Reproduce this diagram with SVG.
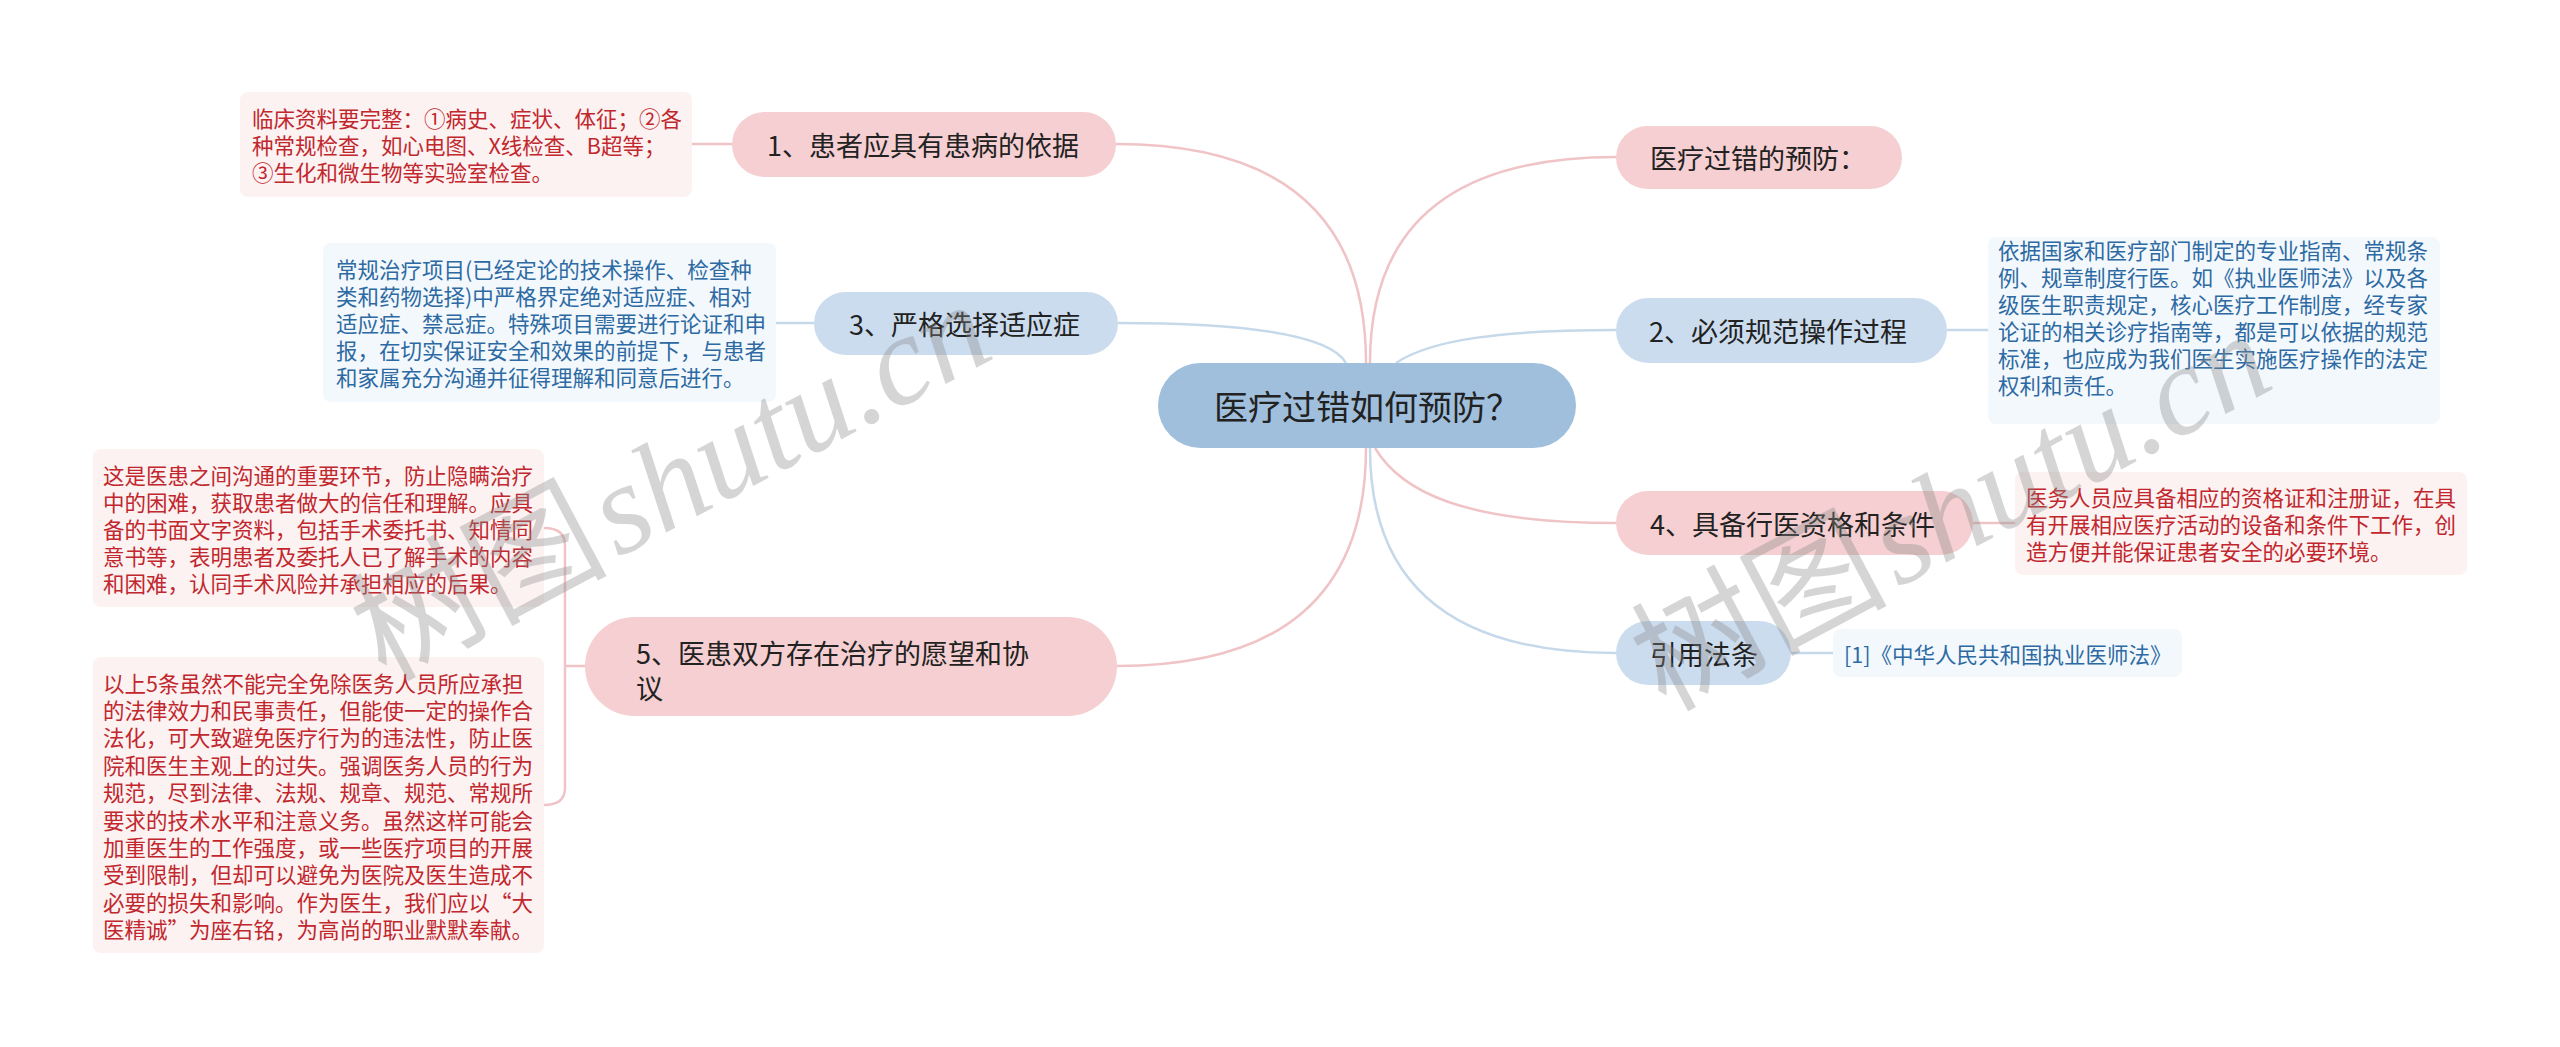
<svg xmlns="http://www.w3.org/2000/svg" width="2560" height="1047" viewBox="0 0 2560 1047">
<style>
text{font-family:"Noto Sans CJK SC","Noto Sans",sans-serif;dominant-baseline:central}
.main{font-size:27px;fill:#222}
.center{font-size:34px;fill:#222;text-anchor:middle}
.nr{font-size:21.5px;fill:#c1272d}
.nb{font-size:21.5px;fill:#2d6aa3}
.pk{fill:#f5cfd1}
.bl{fill:#cbdcee}
.npk{fill:#fcf2f2}
.nbl{fill:#f3f8fc}
.cp{fill:none;stroke:#f0c4c6;stroke-width:2.5}
.cb{fill:none;stroke:#c6d9ea;stroke-width:2.5}
.wm{fill:#8a8a8a;fill-opacity:0.36;dominant-baseline:alphabetic}
.wcjk{font-family:"Noto Sans CJK SC",sans-serif}
.wlat{font-family:"Liberation Serif",serif;font-style:italic}
</style>
<rect width="2560" height="1047" fill="#fff"/>
<g id="connectors">
<path class="cp" d="M1116,144 Q1366,144 1366,363"/>
<path class="cb" d="M1118,323 C1250,323 1330,335 1346,363"/>
<path class="cp" d="M1117,666 Q1366,666 1366,448"/>
<path class="cp" d="M1370,363 Q1370,157 1616,157"/>
<path class="cb" d="M1396,363 C1430,340 1500,330 1616,330"/>
<path class="cp" d="M1375,448 C1400,490 1460,523 1616,523"/>
<path class="cb" d="M1370,448 Q1370,653 1616,653"/>
<path class="cp" d="M692,144 L732,144"/>
<path class="cb" d="M776,323 L814,323"/>
<path class="cp" d="M585,666 L565,666 M565,666 L565,545 Q565,528 544,528 M565,666 L565,788 Q565,805 544,805"/>
<path class="cb" d="M1947,330 L1988,330"/>
<path class="cp" d="M1973,523 L2015,523"/>
<path class="cb" d="M1791,653 L1833,653"/>
</g>
<g id="center">
<rect x="1158" y="363" width="418" height="85" rx="42.5" fill="#a0bfdc"/>
<text class="center" x="1367" y="405.5">医疗过错如何预防？</text>
</g>
<g id="n1">
<rect class="pk" x="732" y="112" width="384" height="65" rx="32.5"/>
<text class="main" x="767" y="144.5">1、患者应具有患病的依据</text>
</g>
<g id="n1note">
<rect class="npk" x="240" y="92" width="452" height="105" rx="8"/>
<text class="nr" x="252" y="117.5">临床资料要完整：①病史、症状、体征；②各</text>
<text class="nr" x="252" y="144.5">种常规检查，如心电图、X线检查、B超等；</text>
<text class="nr" x="252" y="171.5">③生化和微生物等实验室检查。</text>
</g>
<g id="n3">
<rect class="bl" x="814" y="292" width="304" height="63" rx="31.5"/>
<text class="main" x="849" y="323.5">3、严格选择适应症</text>
</g>
<g id="n3note">
<rect class="nbl" x="323" y="243" width="453" height="159" rx="8"/>
<text class="nb" x="336" y="268.5">常规治疗项目(已经定论的技术操作、检查种</text>
<text class="nb" x="336" y="295.5">类和药物选择)中严格界定绝对适应症、相对</text>
<text class="nb" x="336" y="322.5">适应症、禁忌症。特殊项目需要进行论证和申</text>
<text class="nb" x="336" y="349.5">报，在切实保证安全和效果的前提下，与患者</text>
<text class="nb" x="336" y="376.5">和家属充分沟通并征得理解和同意后进行。</text>
</g>
<g id="n5">
<rect class="pk" x="585" y="617" width="532" height="99" rx="49.5"/>
<text class="main" x="636" y="652">5、医患双方存在治疗的愿望和协</text>
<text class="main" x="636" y="687">议</text>
</g>
<g id="n5note1">
<rect class="npk" x="93" y="449" width="451" height="158" rx="8"/>
<text class="nr" x="103" y="474">这是医患之间沟通的重要环节，防止隐瞒治疗</text>
<text class="nr" x="103" y="501">中的困难，获取患者做大的信任和理解。应具</text>
<text class="nr" x="103" y="528">备的书面文字资料，包括手术委托书、知情同</text>
<text class="nr" x="103" y="555">意书等，表明患者及委托人已了解手术的内容</text>
<text class="nr" x="103" y="582">和困难，认同手术风险并承担相应的后果。</text>
</g>
<g id="n5note2">
<rect class="npk" x="93" y="657" width="451" height="296" rx="8"/>
<text class="nr" x="103" y="682">以上5条虽然不能完全免除医务人员所应承担</text>
<text class="nr" x="103" y="709.4">的法律效力和民事责任，但能使一定的操作合</text>
<text class="nr" x="103" y="736.8">法化，可大致避免医疗行为的违法性，防止医</text>
<text class="nr" x="103" y="764.2">院和医生主观上的过失。强调医务人员的行为</text>
<text class="nr" x="103" y="791.6">规范，尽到法律、法规、规章、规范、常规所</text>
<text class="nr" x="103" y="819">要求的技术水平和注意义务。虽然这样可能会</text>
<text class="nr" x="103" y="846.4">加重医生的工作强度，或一些医疗项目的开展</text>
<text class="nr" x="103" y="873.8">受到限制，但却可以避免为医院及医生造成不</text>
<text class="nr" x="103" y="901.2">必要的损失和影响。作为医生，我们应以“大</text>
<text class="nr" x="103" y="928.6">医精诚”为座右铭，为高尚的职业默默奉献。</text>
</g>
<g id="r0">
<rect class="pk" x="1616" y="126" width="286" height="63" rx="31.5"/>
<text class="main" x="1650" y="157.5">医疗过错的预防：</text>
</g>
<g id="r2">
<rect class="bl" x="1616" y="298" width="331" height="65" rx="32.5"/>
<text class="main" x="1649" y="330.5">2、必须规范操作过程</text>
</g>
<g id="r2note">
<rect class="nbl" x="1988" y="237" width="452" height="187" rx="8"/>
<text class="nb" x="1998" y="249.5">依据国家和医疗部门制定的专业指南、常规条</text>
<text class="nb" x="1998" y="276.5">例、规章制度行医。如《执业医师法》以及各</text>
<text class="nb" x="1998" y="303.5">级医生职责规定，核心医疗工作制度，经专家</text>
<text class="nb" x="1998" y="330.5">论证的相关诊疗指南等，都是可以依据的规范</text>
<text class="nb" x="1998" y="357.5">标准，也应成为我们医生实施医疗操作的法定</text>
<text class="nb" x="1998" y="384.5">权利和责任。</text>
</g>
<g id="r4">
<rect class="pk" x="1616" y="491" width="357" height="64" rx="32"/>
<text class="main" x="1650" y="523">4、具备行医资格和条件</text>
</g>
<g id="r4note">
<rect class="npk" x="2015" y="472" width="452" height="103" rx="8"/>
<text class="nr" x="2026" y="496.5">医务人员应具备相应的资格证和注册证，在具</text>
<text class="nr" x="2026" y="523.5">有开展相应医疗活动的设备和条件下工作，创</text>
<text class="nr" x="2026" y="550.5">造方便并能保证患者安全的必要环境。</text>
</g>
<g id="r5">
<rect class="bl" x="1616" y="621" width="175" height="64" rx="32"/>
<text class="main" x="1650" y="653">引用法条</text>
</g>
<g id="r5note">
<rect class="nbl" x="1833" y="629" width="349" height="48" rx="8"/>
<text class="nb" x="1844" y="653">[1]《中华人民共和国执业医师法》</text>
</g>
<g id="watermarks">
<text class="wm" transform="translate(385,682) rotate(-28)" font-size="128"><tspan class="wcjk">树图</tspan><tspan class="wlat" dx="8">shutu.cn</tspan></text>
<text class="wm" transform="translate(1665,712) rotate(-28)" font-size="128"><tspan class="wcjk">树图</tspan><tspan class="wlat" dx="8">shutu.cn</tspan></text>
</g>
</svg>
